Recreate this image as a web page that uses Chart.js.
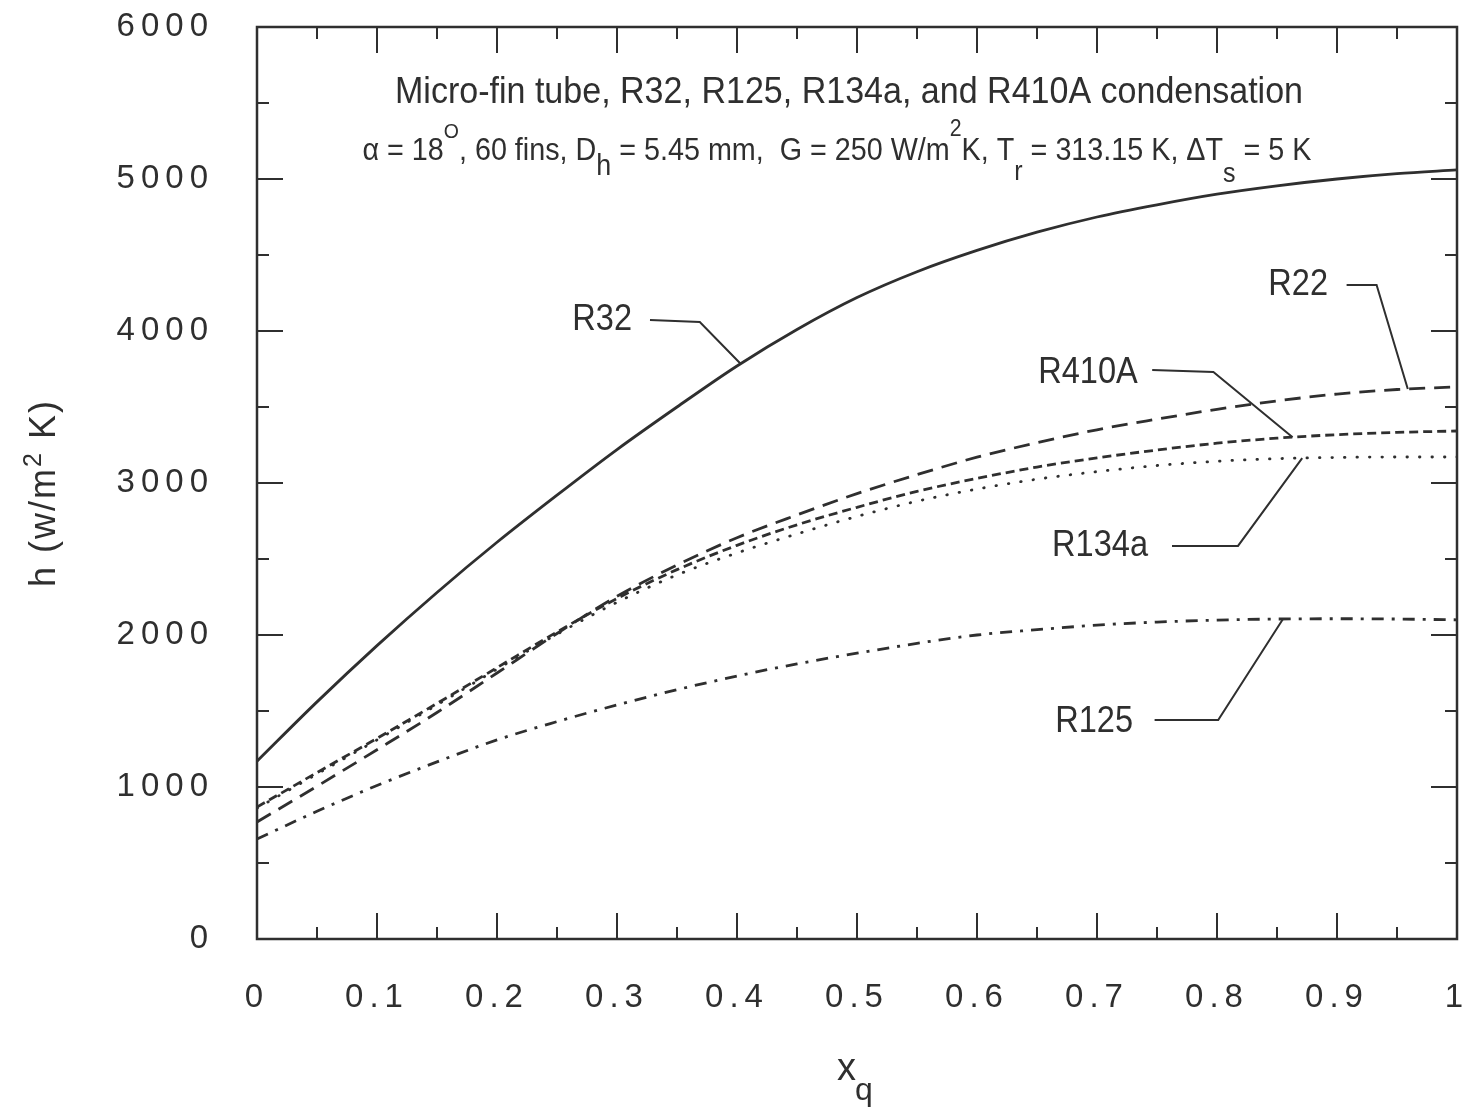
<!DOCTYPE html>
<html>
<head>
<meta charset="utf-8">
<title>Micro-fin tube condensation</title>
<script src="https://cdn.jsdelivr.net/npm/chart.js@4.4.1/dist/chart.umd.min.js"></script>
<style>
    html, body { margin: 0; padding: 0; background: #fff; }
    #wrap { width: 1471px; height: 1114px; position: relative; }
</style>
</head>
<body>
<div id="wrap"><canvas id="htcChart"></canvas></div>
<script>
// Vapor quality grid shared by every curve
const xq = [0, 0.05, 0.1, 0.15, 0.2, 0.25, 0.3, 0.35, 0.4, 0.45, 0.5,
            0.55, 0.6, 0.65, 0.7, 0.75, 0.8, 0.85, 0.9, 0.95, 1];

// Heat transfer coefficient h (W/m2 K) per refrigerant
const hR32   = [1170, 1560, 1930, 2280, 2610, 2920, 3220, 3500, 3770, 4010, 4220,
                4390, 4530, 4650, 4750, 4830, 4900, 4955, 5000, 5035, 5060];
const hR22   = [770, 1005, 1245, 1490, 1750, 2010, 2255, 2460, 2640, 2790, 2930,
                3055, 3170, 3265, 3350, 3420, 3485, 3540, 3585, 3615, 3632];
const hR410A = [868, 1095, 1320, 1550, 1785, 2020, 2240, 2430, 2590, 2725, 2840,
                2945, 3030, 3105, 3165, 3217, 3262, 3295, 3318, 3333, 3342];
const hR134a = [860, 1085, 1310, 1540, 1775, 2005, 2215, 2395, 2540, 2665, 2780,
                2880, 2960, 3025, 3075, 3115, 3143, 3160, 3168, 3171, 3171];
const hR125  = [658, 840, 1010, 1165, 1310, 1430, 1540, 1640, 1730, 1810, 1880,
                1945, 2000, 2035, 2065, 2085, 2098, 2105, 2107, 2105, 2100];

// Axis ticks
const xTickValues = [0, 0.1, 0.2, 0.3, 0.4, 0.5, 0.6, 0.7, 0.8, 0.9, 1];
const xTickLabels = ['0', '0.1', '0.2', '0.3', '0.4', '0.5', '0.6', '0.7', '0.8', '0.9', '1'];
const xMinorTicks = [0.05, 0.15, 0.25, 0.35, 0.45, 0.55, 0.65, 0.75, 0.85, 0.95];
const yTickValues = [0, 1000, 2000, 3000, 4000, 5000, 6000];
const yTickLabels = ['0', '1000', '2000', '3000', '4000', '5000', '6000'];
const yMinorTicks = [500, 1500, 2500, 3500, 4500, 5500];

const INK = '#2f2f2f';
const FONT = '"Liberation Sans", Arial, Helvetica, sans-serif';

// Callout labels: text end + leader path in data units, leader ends on the curve at hitX
const callouts = [
    { text: 'R32',   series: hR32,   textAt: [0.3125, 4072], path: [[0.3275, 4072], [0.369, 4059]], hitX: 0.403 },
    { text: 'R22',   series: hR22,   textAt: [0.8925, 4303], path: [[0.908, 4303], [0.933, 4303]], hitX: 0.959 },
    { text: 'R410A', series: hR410A, textAt: [0.734, 3724],  path: [[0.746, 3743], [0.797, 3730]], hitX: 0.863 },
    { text: 'R134a', series: hR134a, textAt: [0.7425, 2586], path: [[0.7625, 2586], [0.8175, 2586]], hitX: 0.871 },
    { text: 'R125',  series: hR125,  textAt: [0.73, 1428],   path: [[0.748, 1441], [0.801, 1441]], hitX: 0.855 }
];

function valueAt(series, x) {
    for (let i = 1; i < xq.length; i++) {
        if (x <= xq[i]) {
            const t = (x - xq[i - 1]) / (xq[i] - xq[i - 1]);
            return series[i - 1] + t * (series[i] - series[i - 1]);
        }
    }
    return series[series.length - 1];
}

function toPoints(series) {
    return xq.map((x, i) => ({ x: x, y: series[i] }));
}

// Draw a run of text pieces (normal / super / sub), squeezed to a given width
function drawRich(ctx, pieces, cx, baseline, targetWidth) {
    let natural = 0;
    pieces.forEach(p => {
        ctx.font = `${p.size}px ${FONT}`;
        natural += ctx.measureText(p.t).width;
    });
    const sx = targetWidth ? targetWidth / natural : 1;
    ctx.save();
    ctx.translate(cx - natural * sx / 2, baseline);
    ctx.scale(sx, 1);
    ctx.textAlign = 'left';
    ctx.textBaseline = 'alphabetic';
    let x = 0;
    pieces.forEach(p => {
        ctx.font = `${p.size}px ${FONT}`;
        ctx.fillText(p.t, x, p.dy || 0);
        x += ctx.measureText(p.t).width;
    });
    ctx.restore();
}

function drawSqueezed(ctx, text, rightX, midY, size, sx) {
    ctx.save();
    ctx.font = `${size}px ${FONT}`;
    const w = ctx.measureText(text).width * sx;
    ctx.translate(rightX - w, midY);
    ctx.scale(sx, 1);
    ctx.textAlign = 'left';
    ctx.textBaseline = 'middle';
    ctx.fillText(text, 0, 0);
    ctx.restore();
}

// keep the plot box exactly where the layout padding puts it
function noEdgePadding(s) {
    s.paddingTop = 0;
    s.paddingBottom = 0;
    s.paddingLeft = 0;
    s.paddingRight = 0;
}

// Spaced-out tick digits
const tickSpacing = {
    id: 'tickSpacing',
    beforeDraw(chart) {
        chart.ctx.letterSpacing = '6px';
    }
};

const decorations = {
    id: 'decorations',
    afterDraw(chart) {
        const { ctx, chartArea: a, scales: { x, y } } = chart;
        ctx.save();
        ctx.letterSpacing = '0px';
        ctx.strokeStyle = INK;
        ctx.fillStyle = INK;
        ctx.lineCap = 'butt';

        // frame
        ctx.lineWidth = 2.5;
        ctx.strokeRect(a.left, a.top, a.right - a.left, a.bottom - a.top);

        // inward ticks on all four sides
        ctx.lineWidth = 2;
        const xTick = (v, len) => {
            const px = x.getPixelForValue(v);
            ctx.beginPath();
            ctx.moveTo(px, a.bottom); ctx.lineTo(px, a.bottom - len);
            ctx.moveTo(px, a.top); ctx.lineTo(px, a.top + len);
            ctx.stroke();
        };
        const yTick = (v, len) => {
            const py = y.getPixelForValue(v);
            ctx.beginPath();
            ctx.moveTo(a.left, py); ctx.lineTo(a.left + len, py);
            ctx.moveTo(a.right, py); ctx.lineTo(a.right - len, py);
            ctx.stroke();
        };
        xTickValues.forEach(v => xTick(v, 26));
        xMinorTicks.forEach(v => xTick(v, 12));
        yTickValues.forEach(v => yTick(v, 26));
        yMinorTicks.forEach(v => yTick(v, 12));

        // callouts
        callouts.forEach(c => {
            const tx = x.getPixelForValue(c.textAt[0]);
            const ty = y.getPixelForValue(c.textAt[1]);
            drawSqueezed(ctx, c.text, tx, ty, 37, 0.88);
            ctx.lineWidth = 2;
            ctx.beginPath();
            c.path.forEach((p, i) => {
                const px = x.getPixelForValue(p[0]);
                const py = y.getPixelForValue(p[1]);
                if (i === 0) ctx.moveTo(px, py); else ctx.lineTo(px, py);
            });
            ctx.lineTo(x.getPixelForValue(c.hitX), y.getPixelForValue(valueAt(c.series, c.hitX)));
            ctx.stroke();
        });

        // heading inside the plot
        drawRich(ctx, [{ t: 'Micro-fin tube, R32, R125, R134a, and R410A condensation', size: 37 }],
            849, 103, 908);
        drawRich(ctx, [
            { t: '\u03b1 = 18', size: 31 },
            { t: 'O', size: 21, dy: -22 },
            { t: ', 60 fins, D', size: 31 },
            { t: 'h', size: 29, dy: 15 },
            { t: ' = 5.45 mm,  G = 250 W/m', size: 31 },
            { t: '2', size: 23, dy: -24 },
            { t: 'K, T', size: 31 },
            { t: 'r', size: 27, dy: 20 },
            { t: ' = 313.15 K, \u0394T', size: 31 },
            { t: 's', size: 27, dy: 22 },
            { t: ' = 5 K', size: 31 }
        ], 837, 160, 949);

        // axis titles
        ctx.save();
        ctx.translate(45, 493);
        ctx.rotate(-Math.PI / 2);
        ctx.letterSpacing = '2px';
        ctx.textBaseline = 'middle';
        ctx.textAlign = 'left';
        const parts = [
            { t: 'h (w/m', size: 36, dy: 0 },
            { t: '2', size: 25, dy: -11 },
            { t: ' K)', size: 36, dy: 0 }
        ];
        let total = 0;
        parts.forEach(p => { ctx.font = `${p.size}px ${FONT}`; total += ctx.measureText(p.t).width; });
        let ox = -total / 2;
        parts.forEach(p => {
            ctx.font = `${p.size}px ${FONT}`;
            ctx.fillText(p.t, ox, p.dy);
            ox += ctx.measureText(p.t).width;
        });
        ctx.restore();

        ctx.textAlign = 'left';
        ctx.textBaseline = 'alphabetic';
        ctx.font = `38px ${FONT}`;
        ctx.fillText('x', 837, 1080);
        ctx.font = `32px ${FONT}`;
        ctx.fillText('q', 855, 1100);

        ctx.restore();
    }
};

const seriesStyle = (label, data, dash, cap) => ({
    label: label,
    data: toPoints(data),
    borderColor: INK,
    borderWidth: 2.8,
    borderDash: dash,
    borderCapStyle: cap || 'butt',
    pointRadius: 0,
    fill: false,
    cubicInterpolationMode: 'monotone'
});

new Chart(document.getElementById('htcChart'), {
    type: 'line',
    data: {
        datasets: [
            seriesStyle('R32', hR32, []),
            seriesStyle('R22', hR22, [16, 9]),
            seriesStyle('R410A', hR410A, [9, 5]),
            seriesStyle('R134a', hR134a, [0.5, 12], 'round'),
            seriesStyle('R125', hR125, [12, 8, 3, 8])
        ]
    },
    options: {
        responsive: true,
        maintainAspectRatio: false,
        animation: false,
        layout: { padding: { top: 27, right: 14, left: 0, bottom: 0 } },
        plugins: {
            legend: { display: false },
            tooltip: { enabled: false }
        },
        scales: {
            x: {
                type: 'linear',
                min: 0,
                max: 1,
                grid: { display: false },
                border: { display: false },
                afterFit: s => { s.height = 175; noEdgePadding(s); },
                afterBuildTicks: s => { s.ticks = xTickValues.map(v => ({ value: v })); },
                ticks: {
                    color: INK,
                    font: { family: FONT, size: 33 },
                    padding: 31,
                    maxRotation: 0,
                    autoSkip: false,
                    callback: (v, i) => xTickLabels[i]
                }
            },
            y: {
                type: 'linear',
                min: 0,
                max: 6000,
                grid: { display: false },
                border: { display: false },
                afterFit: s => { s.width = 257; noEdgePadding(s); },
                afterBuildTicks: s => { s.ticks = yTickValues.map(v => ({ value: v })); },
                ticks: {
                    color: INK,
                    font: { family: FONT, size: 33 },
                    padding: 35,
                    autoSkip: false,
                    callback: (v, i) => yTickLabels[i]
                }
            }
        }
    },
    plugins: [tickSpacing, decorations]
});
</script>
</body>
</html>
